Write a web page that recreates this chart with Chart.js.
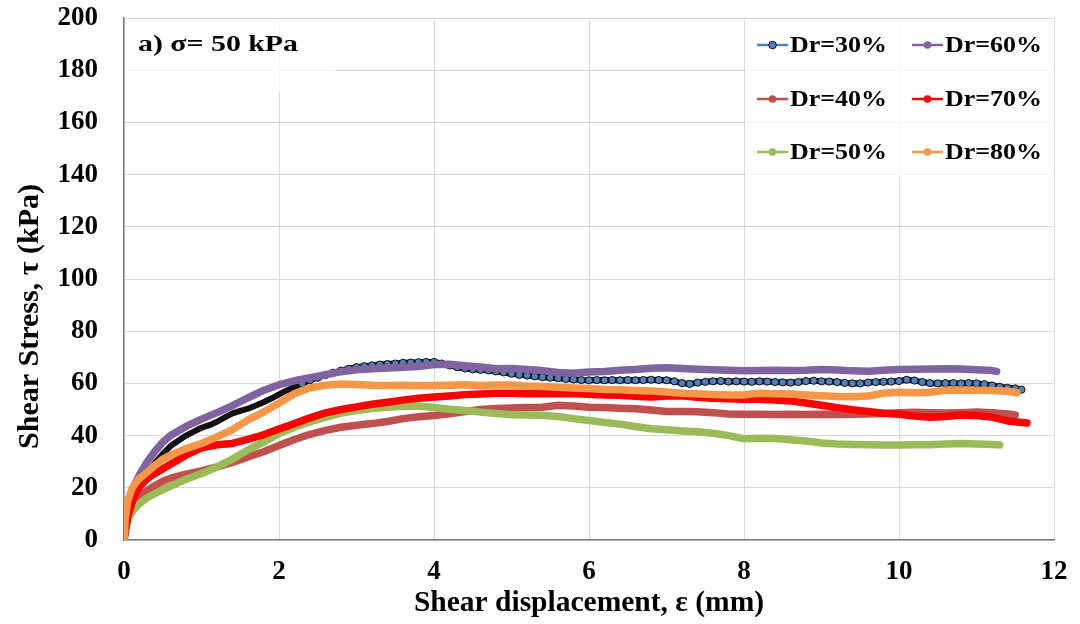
<!DOCTYPE html>
<html>
<head>
<meta charset="utf-8">
<script src="https://cdn.jsdelivr.net/npm/chart.js@4/dist/chart.umd.min.js"></script>
<style>
  html, body { margin: 0; padding: 0; background: #fff; }
  #wrap { width: 1080px; height: 624px; }
</style>
</head>
<body>
<div id="wrap"><canvas id="shear" width="1080" height="624"></canvas></div>
<script>
// shear displacement (mm) sampling used for the thick curves
var xGrid = [0, 0.02, 0.05, 0.1, 0.15, 0.2, 0.3, 0.4, 0.5, 0.6, 0.8,
  1.0, 1.2, 1.4, 1.6, 1.8, 2.0, 2.2, 2.4, 2.6, 2.8,
  3.0, 3.2, 3.4, 3.6, 3.8, 4.0, 4.2, 4.4, 4.6, 4.8,
  5.0, 5.2, 5.4, 5.6, 5.8, 6.0, 6.2, 6.4, 6.6, 6.8,
  7.0, 7.2, 7.4, 7.6, 7.8, 8.0, 8.2, 8.4, 8.6, 8.8,
  9.0, 9.2, 9.4, 9.6, 9.8, 10.0, 10.2, 10.4, 10.6, 10.8,
  11.0, 11.2, 11.4, 11.6];

// Dr=30% has its own, denser sampling (marker series)
var x30 = [0, 0.02, 0.05,
  0.1, 0.2, 0.3, 0.4, 0.5, 0.6, 0.7, 0.8, 0.9, 1.0,
  1.1, 1.2, 1.3, 1.4, 1.5, 1.6, 1.7, 1.8, 1.9, 2.0,
  2.1, 2.2, 2.3, 2.4, 2.5, 2.6, 2.7, 2.8, 2.9, 3.0,
  3.1, 3.2, 3.3, 3.4, 3.5, 3.6, 3.7, 3.8, 3.9, 4.0,
  4.1, 4.2, 4.3, 4.4, 4.5, 4.6, 4.7, 4.8, 4.9, 5.0,
  5.1, 5.2, 5.3, 5.4, 5.5, 5.6, 5.7, 5.8, 5.9, 6.0,
  6.1, 6.2, 6.3, 6.4, 6.5, 6.6, 6.7, 6.8, 6.9, 7.0,
  7.1, 7.2, 7.3, 7.4, 7.5, 7.6, 7.7, 7.8, 7.9, 8.0,
  8.1, 8.2, 8.3, 8.4, 8.5, 8.6, 8.7, 8.8, 8.9, 9.0,
  9.1, 9.2, 9.3, 9.4, 9.5, 9.6, 9.7, 9.8, 9.9, 10.0,
  10.1, 10.2, 10.3, 10.4, 10.5, 10.6, 10.7, 10.8, 10.9, 11.0,
  11.1, 11.2, 11.3, 11.4, 11.5];

// last reading of every test sits at its own end displacement
var labels = ['Dr=30%', 'Dr=40%', 'Dr=50%', 'Dr=60%', 'Dr=70%', 'Dr=80%'];
var endX = [11.58, 11.5, 11.3, 11.26, 11.65, 11.52];

// shear stress (kPa)
var dr30 = [0, 5, 10,
  15, 21, 25.5, 29.5, 33, 36, 38, 40, 41.5, 43,
  44, 45.3, 47, 48.5, 49.5, 50.3, 51.5, 52.8, 54.2, 55.8,
  57.3, 58.6, 60, 61.2, 62.2, 63.2, 64.1, 64.9, 65.6, 66.2,
  66.6, 66.9, 67.2, 67.4, 67.6, 67.9, 68, 68.1, 68.2, 68.2,
  67.6, 66.9, 66.2, 65.7, 65.4, 65.2, 65, 64.6, 64.2, 63.7,
  63.3, 63, 62.7, 62.4, 62.2, 62, 61.7, 61.5, 61.3, 61.2,
  61.3, 61.2, 61.3, 61.2, 61.3, 61.2, 61.3, 61.4, 61.3, 61.2,
  60.8, 60.1, 59.8, 60.3, 60.6, 60.8, 60.9, 60.7, 60.8, 60.7,
  60.6, 60.8, 60.7, 60.5, 60.4, 60.3, 60.5, 60.9, 61, 60.8,
  60.7, 60.5, 60.2, 60, 60, 60.3, 60.5, 60.6, 60.7, 60.9,
  61.4, 61.1, 60.5, 60.1, 60, 60.1, 60.1, 60, 60.1, 60,
  59.7, 59.2, 58.7, 58.3, 58.1, 57.6];

var dr40 = [0, 5, 10, 13.5, 15.5, 17, 19, 20.8, 22.5, 23.7, 25.2,
  26.5, 28, 29.7, 31.8, 33.8, 36.2, 38.5, 40.5, 42, 43.2,
  44, 44.6, 45.4, 46.5, 47.2, 47.7, 48.4, 49.2, 50, 50.4,
  50.6, 50.8, 50.9, 51.6, 51.3, 50.9, 50.8, 50.5, 50.3, 49.8,
  49.2, 49.2, 49.1, 48.8, 48.3, 48.2, 48.2, 48.1, 48.2, 48.1,
  48.2, 48.1, 48.2, 48.3, 48.5, 48.8, 48.9, 48.8, 48.7, 48.8,
  49, 48.8, 48.3, 47.9];

var dr50 = [0, 4, 8, 10.5, 12.5, 14, 16.2, 17.8, 19.3, 20.6, 23.3,
  25.5, 28, 31, 34.5, 37.5, 40.8, 43.2, 45.3, 47, 48.6,
  49.6, 50.4, 50.9, 51.2, 51.3, 50.8, 50.1, 49.6, 49, 48.5,
  48, 47.9, 47.8, 47.3, 46.5, 45.8, 45, 44.4, 43.5, 42.6,
  42.2, 41.8, 41.5, 40.9, 40, 38.8, 39, 38.9, 38.4, 37.9,
  37.2, 36.8, 36.6, 36.5, 36.4, 36.4, 36.5, 36.5, 36.8, 37,
  36.8, 36.6, 36.4];

var dr60 = [0, 6, 12, 18, 22, 25, 30, 34, 37.5, 40, 43.5,
  46.3, 48.8, 51.5, 54.5, 57.3, 59.5, 61, 62.2, 63.3, 64.5,
  65.2, 65.6, 65.9, 66.2, 66.5, 67.2, 67.3, 66.8, 66.3, 65.6,
  65.7, 65.3, 64.9, 64.2, 63.9, 64.4, 64.6, 65, 65.3, 65.8,
  66, 65.7, 65.4, 65.2, 65, 64.8, 64.9, 65, 64.9, 65,
  65.3, 65.1, 64.8, 64.7, 65, 65.3, 65.4, 65.5, 65.6, 65.5,
  65.2, 64.9, 64.6];

var dr70 = [0, 4, 9, 14, 18, 20.5, 23.5, 25.5, 27.3, 29, 32.5,
  35.3, 36.5, 37, 38.6, 40.3, 42.5, 44.6, 46.8, 48.7, 50,
  51, 52, 52.8, 53.6, 54.3, 54.8, 55.2, 55.7, 55.9, 56.2,
  56.2, 56, 56, 56.1, 56, 55.8, 55.6, 55.5, 55.1, 54.8,
  55.2, 55.3, 54.7, 54.3, 54.1, 53.9, 53.9, 53.6, 53.3, 52.5,
  51.6, 50.7, 49.9, 49.2, 48.6, 48.2, 47.5, 47, 47.3, 47.9,
  47.7, 47.1, 45.6, 44.8];

var dr80 = [0, 9, 15, 19.5, 22, 23.5, 26, 28.6, 31, 32.5, 35,
  37, 39.5, 42.3, 46, 49, 52.5, 56, 58.3, 59.3, 59.8,
  59.6, 59.3, 59.2, 59.3, 59.1, 59.2, 59.3, 59.5, 59.2, 59.4,
  59.4, 59, 58.8, 58.5, 58.2, 58, 57.7, 57.6, 57.3, 57.1,
  56.7, 56.2, 56, 55.7, 55.6, 55.6, 56.2, 56, 55.9, 55.6,
  55.3, 55, 54.9, 55.2, 56.2, 56.6, 56.4, 56.6, 57.4, 57.5,
  57.4, 57.3, 57, 56.4];

var xTicks = [0, 2, 4, 6, 8, 10, 12];
var yTicks = [0, 20, 40, 60, 80, 100, 120, 140, 160, 180, 200];

var colors = ['#4F81BD', '#C0504D', '#9BBB59', '#8064A2', '#FF0000', '#F79646'];
var legendOrder = [0, 3, 1, 4, 2, 5];
var serif = '"Liberation Serif", "Times New Roman", serif';

function makePoints(xs, ys, lastX) {
  var pts = [];
  for (var i = 0; i < ys.length; i++) {
    pts.push({x: i === ys.length - 1 ? lastX : xs[i], y: ys[i]});
  }
  return pts;
}

var series = [dr30, dr40, dr50, dr60, dr70, dr80];
var datasets = [];
for (var i = 0; i < series.length; i++) {
  var ds = {
    label: labels[i],
    data: makePoints(i === 0 ? x30 : xGrid, series[i], endX[i]),
    borderColor: colors[i],
    backgroundColor: colors[i],
    borderWidth: 7.5,
    borderCapStyle: 'round',
    borderJoinStyle: 'round',
    pointRadius: 0,
    tension: 0,
    order: 6 - i
  };
  if (i === 0) {
    ds.borderColor = '#111';
    ds.borderWidth = 6;
    ds.pointRadius = function(c) { return c.raw && c.raw.x < 2.3 ? 0 : 3.6; };
    ds.pointBorderColor = '#111';
    ds.pointBorderWidth = 1;
    ds.pointBackgroundColor = colors[0];
  }
  datasets.push(ds);
}

var overlay = {
  id: 'overlay',
  beforeDatasetsDraw: function(chart) {
    var ctx = chart.ctx;
    ctx.save();
    ctx.fillStyle = 'rgba(255,255,255,0.75)';
    ctx.fillRect(125, 19, 210, 73);
    ctx.fillRect(747, 19, 306, 159);
    ctx.restore();
  },
  afterDraw: function(chart) {
    var ctx = chart.ctx;
    ctx.save();
    // panel caption
    ctx.font = 'bold 24px ' + serif;
    ctx.fillStyle = '#000';
    ctx.textBaseline = 'alphabetic';
    var cap = 'a) \u03c3= 50 kPa';
    var sx = 160 / ctx.measureText(cap).width;
    ctx.save();
    ctx.translate(138, 51);
    ctx.scale(sx, 1);
    ctx.fillText(cap, 0, 0);
    ctx.restore();

    // legend, two columns
    var colX = [757, 912];
    var rowY = [45, 99, 152];
    ctx.font = 'bold 24px ' + serif;
    ctx.textBaseline = 'middle';
    var tx = 97 / ctx.measureText('Dr=30%').width;
    for (var k = 0; k < legendOrder.length; k++) {
      var d = legendOrder[k];
      var x0 = colX[k % 2];
      var y0 = rowY[Math.floor(k / 2)];
      ctx.strokeStyle = colors[d];
      ctx.lineWidth = 2.5;
      ctx.beginPath();
      ctx.moveTo(x0, y0);
      ctx.lineTo(x0 + 31, y0);
      ctx.stroke();
      ctx.beginPath();
      ctx.arc(x0 + 15.5, y0, 3.8, 0, Math.PI * 2);
      ctx.fillStyle = colors[d];
      ctx.fill();
      if (d === 0) {
        ctx.strokeStyle = '#111';
        ctx.lineWidth = 1;
        ctx.stroke();
      }
      ctx.fillStyle = '#000';
      ctx.save();
      ctx.translate(x0 + 33, y0 + 1);
      ctx.scale(tx, 1);
      ctx.fillText(labels[d], 0, 0);
      ctx.restore();
    }
    ctx.restore();
  }
};

var ctx = document.getElementById('shear');
var chart = new Chart(ctx, {
  type: 'line',
  data: { datasets: datasets },
  options: {
    responsive: false,
    animation: false,
    devicePixelRatio: 1,
    layout: { padding: { left: 0, right: 26, top: 18, bottom: 0 } },
    plugins: {
      legend: { display: false },
      tooltip: { enabled: false }
    },
    scales: {
      x: {
        type: 'linear',
        min: 0,
        max: 12,
        afterBuildTicks: function(s) { s.ticks = xTicks.map(function(v) { return {value: v}; }); },
        afterFit: function(s) { s.height = 84; },
        grid: { color: '#d9d9d9', drawTicks: true, tickLength: 16, tickColor: 'rgba(0,0,0,0)' },
        border: { color: '#7f7f7f', width: 1.5 },
        ticks: { color: '#000', padding: 0, font: { family: serif, size: 27, weight: 'bold' } },
        title: {
          display: true,
          text: 'Shear displacement, \u03b5 (mm)',
          color: '#000',
          padding: { top: 4, bottom: 3 },
          font: { family: serif, size: 29.5, weight: 'bold' }
        }
      },
      y: {
        min: 0,
        max: 200,
        afterBuildTicks: function(s) { s.ticks = yTicks.map(function(v) { return {value: v}; }); },
        afterFit: function(s) { s.width = 124; },
        grid: { color: '#d9d9d9', drawTicks: true, tickLength: 26, tickColor: 'rgba(0,0,0,0)' },
        border: { color: '#7f7f7f', width: 1.5 },
        ticks: { color: '#000', padding: 0, font: { family: serif, size: 27, weight: 'bold' } },
        title: {
          display: true,
          text: 'Shear Stress, \u03c4 (kPa)          ',
          color: '#000',
          padding: { top: 12, bottom: 0 },
          font: { family: serif, size: 30, weight: 'bold' }
        }
      }
    }
  },
  plugins: [overlay]
});
</script>
</body>
</html>
